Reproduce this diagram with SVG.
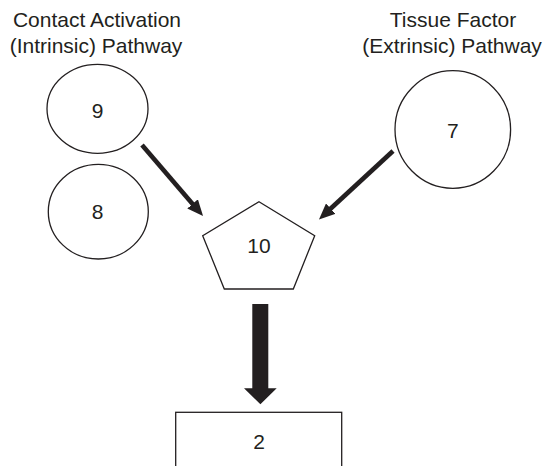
<svg xmlns="http://www.w3.org/2000/svg" width="546" height="466" viewBox="0 0 546 466">
<style>
text{font-family:"Liberation Sans",Arial,sans-serif;font-size:21px;fill:#231f20;text-anchor:middle}
.shape{fill:#fff;stroke:#231f20;stroke-width:1.3}
.conn{stroke:#231f20;stroke-width:4.6;fill:none}
</style>
<defs>
<marker id="ah" viewBox="0 0 16 14" refX="4" refY="7" markerWidth="16" markerHeight="14" markerUnits="userSpaceOnUse" orient="auto">
<path d="M0,0 L16,7 L0,14 z" fill="#231f20"/>
</marker>
</defs>
<rect width="546" height="466" fill="#fff"/>
<g id="label-intrinsic">
<text x="97" y="27">Contact Activation</text>
<text x="96" y="53">(Intrinsic) Pathway</text>
</g>
<g id="label-extrinsic">
<text x="453" y="27">Tissue Factor</text>
<text x="452" y="53">(Extrinsic) Pathway</text>
</g>
<g id="node-9">
<ellipse class="shape" cx="97.5" cy="108.8" rx="50.5" ry="44.5"/>
<text x="97.5" y="117.5">9</text>
</g>
<g id="node-8">
<ellipse class="shape" cx="98.3" cy="211.7" rx="50" ry="47.3"/>
<text x="97.5" y="219.2">8</text>
</g>
<g id="node-7">
<ellipse class="shape" cx="452.8" cy="129.5" rx="57.8" ry="58.8"/>
<text x="452.8" y="137.5">7</text>
</g>
<g id="node-10">
<polygon class="shape" points="259,201.7 314.7,235.7 293.3,289 224.3,289 202.7,235.7"/>
<text x="259" y="253.2">10</text>
</g>
<g id="node-2">
<rect class="shape" x="175.7" y="412.3" width="166" height="70"/>
<text x="259" y="449.2">2</text>
</g>
<g id="connectors">
<line class="conn" x1="142" y1="145" x2="195.2" y2="206.9" marker-end="url(#ah)"/>
<line class="conn" x1="393" y1="151" x2="327.8" y2="211.3" marker-end="url(#ah)"/>
<polygon fill="#231f20" points="252.3,304 268.3,304 268.3,388.3 276.7,388.3 260.4,404.3 244,388.3 252.3,388.3"/>
</g>
</svg>
